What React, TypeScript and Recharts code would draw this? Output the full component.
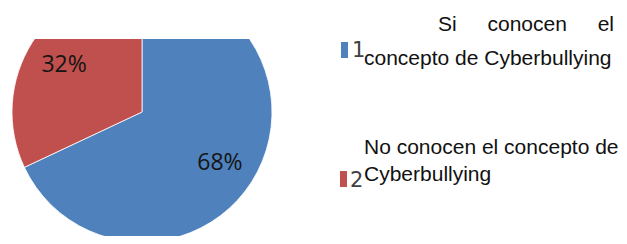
import { Cell, Legend, Pie, PieChart } from "recharts";

const categories = ["1", "2"];
const values = [68, 32];
const descriptions = [
  "Si conocen el concepto de Cyberbullying",
  "No conocen el concepto de Cyberbullying",
];
const COLORS = ["#4F81BD", "#C0504D"];

const chartData = categories.map((c, i) => ({ name: c, value: values[i], desc: descriptions[i] }));

const RADIAN = Math.PI / 180;

function renderLabel(props: any) {
  const { cx, cy, midAngle, outerRadius, percent } = props;
  const r = outerRadius * 0.71;
  const x = cx + r * Math.cos(-midAngle * RADIAN);
  const y = cy + r * Math.sin(-midAngle * RADIAN);
  return (
    <text
      x={x}
      y={y}
      textAnchor="middle"
      dominantBaseline="central"
      fill="#151515"
      style={{ fontFamily: "'Open Sans', sans-serif", fontSize: 23 }}
    >
      {`${Math.round(percent * 100)}%`}
    </text>
  );
}

const textStyle = {
  position: "absolute" as const,
  fontFamily: "'Liberation Sans', Arial, sans-serif",
  fontSize: 21,
  color: "#111",
};

const numStyle = {
  ...textStyle,
  lineHeight: "22px",
  color: "#404040",
  fontFamily: "'DejaVu Sans', sans-serif",
  fontSize: 21,
};

function renderLegend() {
  return (
    <div style={{ position: "relative", width: 627, height: 244 }}>
      {/* entry 1 */}
      <div style={{ position: "absolute", left: 341, top: 42, width: 7, height: 16, background: COLORS[0] }} />
      <span style={{ ...numStyle, left: 352, top: 39 }}>{categories[0]}</span>
      <div
        style={{
          ...textStyle,
          left: 364,
          top: 7,
          width: 250,
          lineHeight: "34px",
          textAlign: "justify",
          textIndent: 74,
        }}
      >
        {descriptions[0]}
      </div>
      {/* entry 2 */}
      <div style={{ position: "absolute", left: 340, top: 171, width: 7, height: 16, background: COLORS[1] }} />
      <span style={{ ...numStyle, left: 350, top: 169 }}>{categories[1]}</span>
      <div style={{ ...textStyle, left: 364, top: 133, width: 260, lineHeight: "27px", textAlign: "left" }}>
        {descriptions[1]}
      </div>
    </div>
  );
}

export default function App() {
  return (
    <div style={{ position: "relative", width: 627, height: 244, margin: -8, background: "#fff" }}>
      <PieChart width={627} height={244} margin={{ top: 0, right: 0, bottom: 0, left: 0 }}>
        <Pie
          data={chartData}
          dataKey="value"
          nameKey="name"
          cx={142}
          cy={112}
          outerRadius={130}
          startAngle={90}
          endAngle={-270}
          stroke="#ffffff"
          strokeWidth={0.8}
          label={renderLabel}
          labelLine={false}
          isAnimationActive={false}
        >
          {chartData.map((_, i) => (
            <Cell key={i} fill={COLORS[i]} />
          ))}
        </Pie>
        <Legend
          content={renderLegend}
          wrapperStyle={{ position: "absolute", left: 0, top: 0, width: 627, height: 244 }}
        />
      </PieChart>
      <div style={{ position: "absolute", left: 0, top: 0, width: 300, height: 39, background: "#fff" }} />
    </div>
  );
}
